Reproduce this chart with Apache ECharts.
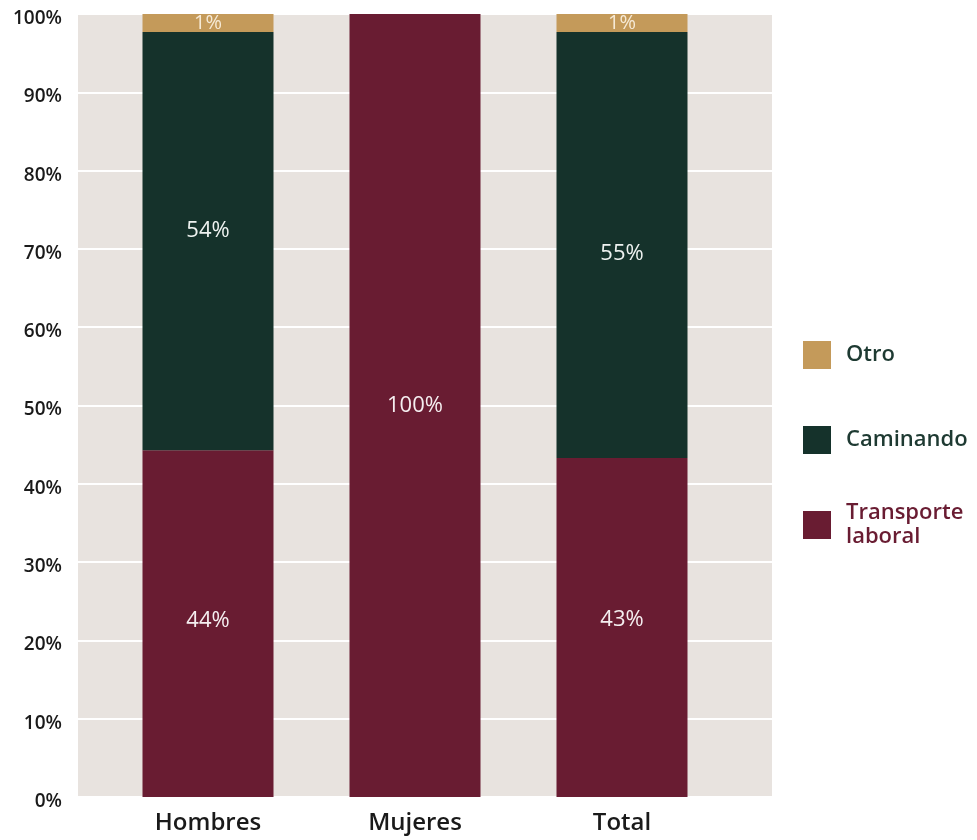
<!DOCTYPE html>
<html>
<head>
<meta charset="utf-8">
<script src="https://cdn.jsdelivr.net/npm/echarts@6/dist/echarts.min.js"></script>
<style>
html,body{margin:0;padding:0;background:#ffffff;}
#chart{width:977px;height:840px;}
</style>
</head>
<body>
<div id="chart"></div>
<script>
var categories = ['Hombres', 'Mujeres', 'Total'];
var transporte = [44.3, 100, 43.3];
var caminando = [53.4, null, 54.4];
var otro = [2.3, null, 2.3];
var transporteLabels = ['44%', '100%', '43%'];
var caminandoLabels = ['54%', '', '55%'];
var otroLabels = ['1%', '', '1%'];
var yTicks = [0, 10, 20, 30, 40, 50, 60, 70, 80, 90, 100];

var FONT = 'Open Sans';
var cOtro = '#c49a5a', cCam = '#15322b', cTra = '#691c32';
// small vertical nudges of the in-bar labels (styling only)
var camNudge = [-10, 0, 9];
var traNudge = [-3, 0, -8];

function lbl(arr, color, size) {
  return {
    show: true, position: 'inside', color: color, fontFamily: FONT, fontSize: size,
    formatter: function (p) { return arr[p.dataIndex]; }
  };
}
function items(vals, nudge) {
  return vals.map(function (v, i) {
    return nudge ? {value: v, label: {offset: [0, nudge[i]]}} : v;
  });
}

var chart = echarts.init(document.getElementById('chart'));
chart.setOption({
  animation: false,
  grid: [
    {left: 78, right: 205, top: 14, bottom: 43, show: true, backgroundColor: '#e8e3df', borderWidth: 0},
    {left: 104.5, right: 251.5, top: 14, bottom: 43}
  ],
  xAxis: [
    {type: 'value', gridIndex: 0, show: false, min: 0, max: 1},
    {type: 'category', gridIndex: 1, data: categories,
     axisLine: {show: false}, axisTick: {show: false},
     axisLabel: {margin: 14, color: '#1a1a1a', fontFamily: FONT, fontWeight: 600, fontSize: 24}}
  ],
  yAxis: [
    {type: 'value', gridIndex: 0, min: 0, max: 100, interval: 10,
     axisLine: {show: false}, axisTick: {show: false},
     splitLine: {show: true, lineStyle: {color: '#ffffff', width: 2}},
     axisLabel: {margin: 16, color: '#1a1a1a', fontFamily: FONT, fontWeight: 600, fontSize: 19,
       formatter: function (v) { return yTicks.indexOf(v) >= 0 ? '{t|' + v + '%}' : ''; },
       rich: {t: {color: '#1a1a1a', fontFamily: FONT, fontWeight: 600, fontSize: 19, padding: [9, 0, 0, 0]}}}},
    {type: 'value', gridIndex: 1, min: 0, max: 100, show: false, splitLine: {show: false}}
  ],
  legend: [
    {orient: 'vertical', left: 798, top: 336, itemWidth: 28, itemHeight: 28, icon: 'rect',
     data: ['Otro'], textStyle: {color: '#1e3a32', fontFamily: FONT, fontWeight: 600, fontSize: 22, padding: [0, 0, 0, 10]}},
    {orient: 'vertical', left: 798, top: 421, itemWidth: 28, itemHeight: 28, icon: 'rect',
     data: ['Caminando'], textStyle: {color: '#1e3a32', fontFamily: FONT, fontWeight: 600, fontSize: 22, padding: [0, 0, 0, 10]}},
    {orient: 'vertical', left: 798, top: 496, itemWidth: 28, itemHeight: 28, icon: 'rect',
     data: ['Transporte laboral'],
     formatter: function () { return 'Transporte\nlaboral'; },
     textStyle: {color: cTra, fontFamily: FONT, fontWeight: 600, fontSize: 22, lineHeight: 24, padding: [0, 0, 0, 10]}}
  ],
  series: [
    {name: 'Transporte laboral', type: 'bar', stack: 's', xAxisIndex: 1, yAxisIndex: 1, barWidth: 131,
     itemStyle: {color: cTra}, data: items(transporte, traNudge), label: lbl(transporteLabels, '#f5eef0', 22)},
    {name: 'Caminando', type: 'bar', stack: 's', xAxisIndex: 1, yAxisIndex: 1, barWidth: 131,
     itemStyle: {color: cCam}, data: items(caminando, camNudge), label: lbl(caminandoLabels, '#eef2f0', 22)},
    {name: 'Otro', type: 'bar', stack: 's', xAxisIndex: 1, yAxisIndex: 1, barWidth: 131,
     itemStyle: {color: cOtro}, data: otro, label: lbl(otroLabels, '#f6ead6', 20)}
  ]
});
</script>
</body>
</html>
